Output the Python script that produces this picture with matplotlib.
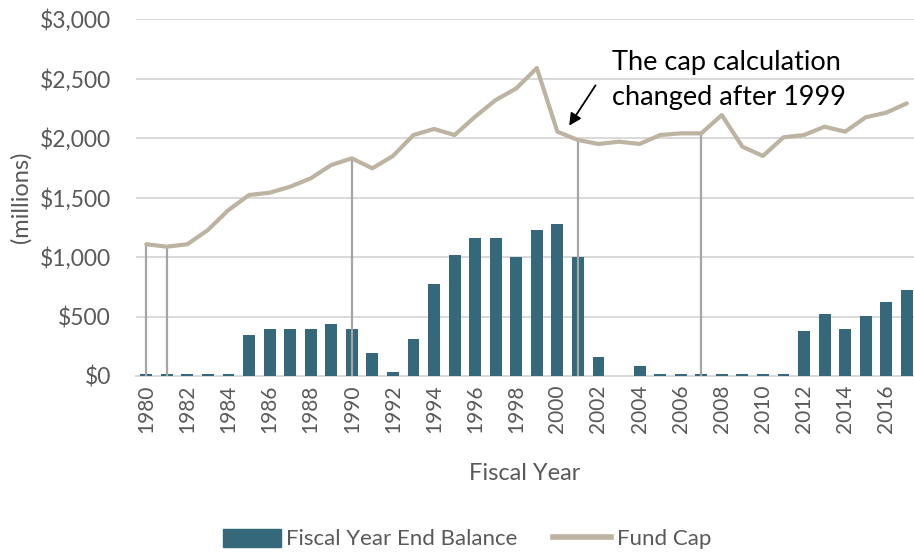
import numpy as np
import matplotlib.pyplot as plt
from matplotlib.patches import Patch
from matplotlib.lines import Line2D
from matplotlib.ticker import FuncFormatter

plt.rcParams['font.family'] = ['Lato', 'DejaVu Sans']

years = list(range(1980, 2018))
balance = [15, 15, 15, 15, 15, 345, 395, 395, 395, 434,
           395, 190, 36, 308, 773, 1017, 1157, 1157, 1003, 1227,
           1277, 1003, 157, 0, 84, 15, 15, 15, 15, 15,
           15, 15, 381, 518, 395, 504, 622, 723]
fund_cap = [1107, 1087, 1107, 1227, 1395, 1521, 1540, 1591, 1661, 1773,
            1829, 1745, 1849, 2025, 2076, 2025, 2179, 2319, 2417, 2588,
            2053, 1983, 1950, 1969, 1950, 2025, 2039, 2039, 2193, 1927,
            1849, 2006, 2025, 2095, 2053, 2174, 2213, 2291]
drop_years = [1980, 1981, 1990, 2001, 2007]

bar_color = '#35687a'
cap_color = '#bcb3a0'
drop_color = '#a5a5a5'
text_gray = '#595959'

fig = plt.figure(figsize=(9.14, 5.54), dpi=100)
ax = fig.add_axes([0.1488, 0.3213, 0.8512, 0.6444])

x = np.arange(len(years))
ax.bar(x, balance, width=0.58, color=bar_color, zorder=3)

# gray drop lines from zero up to the cap
for y in drop_years:
    i = years.index(y)
    ax.vlines(i, 0, fund_cap[i], color=drop_color, lw=1.6, zorder=4)

ax.plot(x, fund_cap, color=cap_color, lw=3.0, zorder=5, solid_capstyle='round')

ax.set_xlim(-0.5, 37.35)
ax.set_ylim(0, 3000)
ax.set_yticks(np.arange(0, 3001, 500))
ax.yaxis.set_major_formatter(FuncFormatter(lambda v, p: '${:,.0f}'.format(v)))
ax.set_xticks(x[::2])
ax.set_xticklabels([str(y) for y in years[::2]], rotation=90)
ax.tick_params(length=0, labelsize=15, colors=text_gray)
ax.tick_params(axis='y', labelsize=16.5, pad=18)
ax.tick_params(axis='x', pad=6)
ax.grid(axis='y', color='#d9d9d9', lw=1.4, zorder=0)
ax.set_axisbelow(True)
for s in ['top', 'right', 'left']:
    ax.spines[s].set_visible(False)
ax.spines['bottom'].set_color('#d9d9d9')
ax.spines['bottom'].set_linewidth(1.4)
ax.spines['bottom'].set_zorder(1)

ax.set_ylabel('(millions)', fontsize=17, color=text_gray, labelpad=6)
ax.set_xlabel('Fiscal Year', fontsize=17, color=text_gray, labelpad=22)

ax.text(22.66, 2490, 'The cap calculation\nchanged after 1999', fontsize=19.5,
        ha='left', va='center', linespacing=1.5, color='black')
ax.annotate('', xy=(20.5, 2084), xytext=(21.93, 2462),
            arrowprops=dict(arrowstyle='-|>', color='black', lw=1.3,
                            mutation_scale=18))

handles = [Patch(color=bar_color), Line2D([], [], color=cap_color, lw=4.0)]
fig.legend(handles, ['Fiscal Year End Balance', 'Fund Cap'], loc='center',
           bbox_to_anchor=(467 / 914, 0.027), ncol=2, frameon=False, fontsize=16,
           labelcolor=text_gray, handlelength=2.6, handleheight=0.9,
           handletextpad=0.25, columnspacing=1.6)

fig.savefig('out.png', dpi=100)
